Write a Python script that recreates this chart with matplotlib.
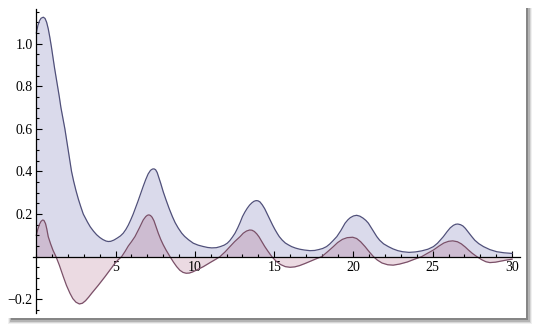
import matplotlib
matplotlib.use("Agg")
import matplotlib.pyplot as plt
from matplotlib.patches import Rectangle
from matplotlib.ticker import MultipleLocator

plt.rcParams["font.family"] = ["Liberation Serif", "DejaVu Serif"]

# values
blueX = [0, 0.1, 0.2, 0.3, 0.44, 0.55, 0.65, 0.75, 0.85, 0.95, 1.05, 1.15, 1.25, 1.34, 1.45,
         1.55, 1.65, 1.8, 1.9, 2.0, 2.1, 2.22, 2.35, 2.5, 2.65, 2.8, 2.96, 3.1, 3.22, 3.4,
         3.6, 3.8, 4.0, 4.2, 4.4, 4.54, 4.7, 4.9, 5.1, 5.3, 5.48, 5.65, 5.8, 5.95, 6.11,
         6.25, 6.4, 6.55, 6.74, 6.9, 7.05, 7.2, 7.32, 7.42, 7.52, 7.62, 7.72, 7.84, 8.0,
         8.18, 8.38, 8.58, 8.75, 8.95, 9.17, 9.35, 9.6, 9.9, 10.2, 10.5, 10.8, 11.06, 11.35,
         11.6, 11.85, 12.04, 12.2, 12.37, 12.53, 12.7, 12.85, 13.0, 13.15, 13.3, 13.45, 13.6,
         13.73, 13.86, 13.98, 14.1, 14.25, 14.4, 14.57, 14.74, 14.9, 15.05, 15.2, 15.32, 15.5,
         15.7, 15.9, 16.1, 16.35, 16.6, 16.9, 17.26, 17.55, 17.8, 18.05, 18.3, 18.5, 18.7,
         18.95, 19.2, 19.47, 19.65, 19.8, 20.0, 20.2, 20.4, 20.6, 20.78, 20.94, 21.1, 21.3,
         21.47, 21.65, 21.9, 22.2, 22.5, 22.8, 23.1, 23.5, 23.9, 24.3, 24.7, 25.04, 25.3,
         25.5, 25.67, 25.9, 26.1, 26.3, 26.45, 26.58, 26.75, 26.9, 27.05, 27.25, 27.46,
         27.65, 27.9, 28.2, 28.6, 29.04, 29.5, 30]
blueY = [1.05, 1.085, 1.107, 1.119, 1.124, 1.118, 1.10, 1.07, 1.03, 0.985, 0.935, 0.885, 0.84,
         0.80, 0.75, 0.70, 0.66, 0.60, 0.552, 0.505, 0.455, 0.40, 0.355, 0.31, 0.27, 0.235,
         0.20, 0.18, 0.163, 0.14, 0.12, 0.103, 0.09, 0.08, 0.073, 0.071, 0.072, 0.078, 0.087,
         0.097, 0.11, 0.128, 0.148, 0.172, 0.20, 0.228, 0.258, 0.29, 0.33, 0.362, 0.388,
         0.405, 0.411, 0.412, 0.408, 0.395, 0.373, 0.345, 0.305, 0.266, 0.225, 0.188, 0.16,
         0.134, 0.11, 0.095, 0.079, 0.063, 0.054, 0.048, 0.043, 0.041, 0.042, 0.047, 0.054,
         0.063, 0.075, 0.092, 0.11, 0.135, 0.16, 0.188, 0.209, 0.227, 0.242, 0.253, 0.26,
         0.263, 0.262, 0.257, 0.243, 0.225, 0.199, 0.172, 0.148, 0.127, 0.108, 0.094, 0.078,
         0.064, 0.055, 0.047, 0.04, 0.035, 0.031, 0.028, 0.029, 0.033, 0.038, 0.047, 0.059,
         0.074, 0.094, 0.122, 0.157, 0.173, 0.183, 0.191, 0.194, 0.19, 0.181, 0.17, 0.157,
         0.138, 0.114, 0.094, 0.077, 0.06, 0.047, 0.036, 0.028, 0.023, 0.02, 0.022, 0.027,
         0.035, 0.047, 0.063, 0.08, 0.094, 0.117, 0.135, 0.147, 0.152, 0.153, 0.15, 0.144,
         0.133, 0.114, 0.094, 0.077, 0.061, 0.047, 0.033, 0.023, 0.018, 0.015]

redX = [0, 0.1, 0.2, 0.3, 0.4, 0.48, 0.58, 0.66, 0.75, 0.9, 1.05, 1.24, 1.45, 1.7, 1.9,
        2.12, 2.3, 2.5, 2.71, 2.9, 3.1, 3.3, 3.49, 3.7, 3.9, 4.1, 4.33, 4.55, 4.75, 4.96,
        5.17, 5.38, 5.6, 5.8, 6.0, 6.22, 6.5, 6.74, 6.9, 7.0, 7.1, 7.2, 7.3, 7.42, 7.55,
        7.69, 7.85, 8.0, 8.18, 8.43, 8.65, 8.85, 9.05, 9.25, 9.45, 9.65, 9.85, 10.1, 10.53,
        11.0, 11.3, 11.58, 11.9, 12.21, 12.5, 12.85, 13.05, 13.25, 13.45, 13.6, 13.75, 13.9,
        14.05, 14.2, 14.4, 14.6, 14.85, 15.1, 15.4, 15.7, 16.0, 16.3, 16.6, 16.95, 17.3,
        17.65, 18.0, 18.35, 18.73, 19.0, 19.3, 19.6, 19.95, 20.2, 20.45, 20.73, 21.0, 21.26,
        21.5, 21.8, 22.15, 22.5, 22.9, 23.4, 23.85, 24.3, 24.65, 25.04, 25.4, 25.7, 26.0,
        26.26, 26.55, 26.8, 27.05, 27.25, 27.5, 27.78, 28.1, 28.35, 28.6, 28.95, 29.3,
        29.65, 30]
redY = [0.10, 0.13, 0.152, 0.166, 0.172, 0.17, 0.155, 0.13, 0.094, 0.06, 0.03, 0.0, -0.04,
        -0.094, -0.135, -0.172, -0.197, -0.214, -0.222, -0.219, -0.207, -0.19, -0.172,
        -0.153, -0.135, -0.116, -0.094, -0.072, -0.052, -0.031, -0.014, 0.0, 0.025, 0.05,
        0.07, 0.094, 0.135, 0.172, 0.188, 0.194, 0.196, 0.193, 0.185, 0.168, 0.14, 0.11,
        0.08, 0.056, 0.031, 0.0, -0.026, -0.047, -0.064, -0.074, -0.078, -0.077, -0.072,
        -0.063, -0.047, -0.026, -0.013, 0.0, 0.022, 0.047, 0.07, 0.094, 0.11, 0.12, 0.125,
        0.124, 0.118, 0.107, 0.092, 0.073, 0.048, 0.026, 0.0, -0.02, -0.037, -0.047, -0.05,
        -0.048, -0.042, -0.032, -0.021, -0.01, 0.0, 0.022, 0.047, 0.066, 0.081, 0.089,
        0.091, 0.085, 0.07, 0.047, 0.022, 0.0, -0.016, -0.03, -0.038, -0.04, -0.035, -0.025,
        -0.012, 0.0, 0.015, 0.031, 0.05, 0.064, 0.072, 0.074, 0.07, 0.06, 0.045, 0.031,
        0.015, 0.0, -0.015, -0.024, -0.028, -0.026, -0.021, -0.016, -0.012]

yTicks = [-0.2, 0.2, 0.4, 0.6, 0.8, 1.0]
xTicks = [5, 10, 15, 20, 25, 30]

blueCol = (0.24, 0.24, 0.6)
redCol = (0.6, 0.24, 0.4)

W, H = 540, 332
fig = plt.figure(figsize=(W / 100, H / 100), dpi=100)
fig.patch.set_facecolor("white")

# drop shadow of the picture frame
for i, a in enumerate([0.06, 0.10, 0.16, 0.25]):
    d = 6 - i * 1.2
    fig.add_artist(Rectangle(((8 + i) / W, 1 - (318 + d) / H), (518 + d - i) / W, (310 + d) / H,
                             transform=fig.transFigure, facecolor="black", alpha=a,
                             edgecolor="none", zorder=-20 + i))
fig.add_artist(Rectangle((0, 1 - 318 / H), 526 / W, 318 / H, transform=fig.transFigure,
                         facecolor="white", edgecolor="none", zorder=-5))

ax = fig.add_axes([33 / W, 1 - 313.3 / H, (520 - 33) / W, (313.3 - 9.3) / H])
ax.patch.set_alpha(0)

ax.fill_between(blueX, blueY, 0, color=blueCol, alpha=0.19, linewidth=0)
ax.fill_between(redX, redY, 0, color=redCol, alpha=0.19, linewidth=0)
ax.plot(blueX, blueY, color="#50507a", linewidth=0.9)
ax.plot(redX, redY, color="#7a5068", linewidth=0.9)

ax.set_xlim(-0.21, 30.5)
ax.set_ylim(-0.266, 1.161)

for s in ["top", "right"]:
    ax.spines[s].set_visible(False)
ax.spines["left"].set_position(("data", 0))
ax.spines["bottom"].set_position(("data", 0))
ax.spines["left"].set_linewidth(0.9)
ax.spines["bottom"].set_linewidth(0.9)

ax.set_xticks(xTicks)
ax.set_xticklabels([str(t) for t in xTicks])
ax.set_yticks(yTicks)
ax.set_yticklabels([("%.1f" % t).replace("-", "\u2212") for t in yTicks])
ax.xaxis.set_minor_locator(MultipleLocator(1))
ax.yaxis.set_minor_locator(MultipleLocator(0.05))

ax.tick_params(which="both", direction="in", width=0.8, labelsize=10)
ax.tick_params(which="major", length=4.5)
ax.tick_params(which="minor", length=2.5)
ax.tick_params(axis="x", pad=3)
ax.tick_params(axis="y", pad=2.5)

fig.savefig("out.png", dpi=100)
